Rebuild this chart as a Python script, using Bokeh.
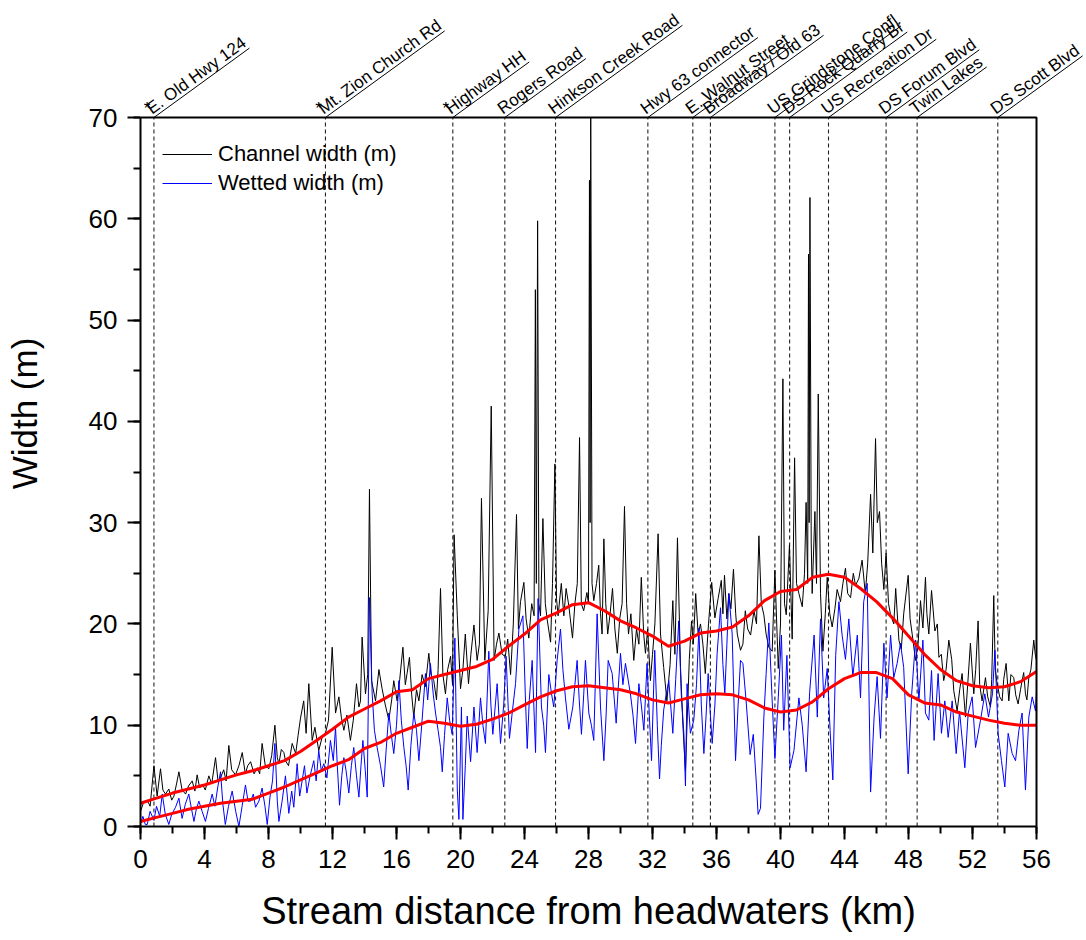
import math
from bokeh.plotting import figure
from bokeh.models import (Range1d, SingleIntervalTicker, Arrow, Legend, LegendItem, Title)
from bokeh.core.properties import value
from bokeh.embed import file_html
from bokeh.resources import INLINE

FONT = "Liberation Sans"

# ---------------- data ----------------
site_km = [0.84, 11.56, 19.52, 22.77, 25.94, 31.71, 34.52, 35.62, 39.65, 40.57, 43.0, 46.6, 48.54, 53.58]
site_names = ["E. Old Hwy 124", "Mt. Zion Church Rd", "Highway HH", "Rogers Road", "Hinkson Creek Road",
              "Hwy 63 connector", "E. Walnut Street", "Broadway / Old 63", "US Grindstone Confl",
              "DS Rock Quarry Br", "US Recreation Dr", "DS Forum Blvd", "Twin Lakes", "DS Scott Blvd"]
site_marked = [True, True, True, False, False, False, False, False, False, False, False, False, False, False]

channel_km = [
    0.0, 0.2, 0.42, 0.6, 0.84, 1.04, 1.25, 1.4, 1.56, 1.77, 1.95, 2.09, 2.25, 2.4, 2.6, 2.82, 3.0, 3.23, 3.4, 3.54,
    3.7, 3.86, 4.05, 4.27, 4.45, 4.69, 4.85, 5.0, 5.2, 5.35, 5.52, 5.7, 5.94, 6.15, 6.36, 6.55, 6.7, 6.88, 7.1, 7.3,
    7.45, 7.6, 7.8, 8.02, 8.2, 8.4, 8.55, 8.65, 8.8, 8.96,
    9.06, 9.25, 9.48, 9.7, 9.85, 10.0, 10.2, 10.35, 10.52, 10.73, 10.9, 11.14, 11.35, 11.56, 11.75, 11.98, 12.19,
    12.4, 12.55, 12.71, 12.9, 13.12, 13.3, 13.5, 13.65, 13.75, 13.85, 14.06, 14.2, 14.31, 14.44, 14.69, 14.9, 15.1,
    15.3, 15.52, 15.7, 15.83, 16.04, 16.2, 16.4, 16.55, 16.66, 16.81, 16.95, 17.08, 17.25, 17.4, 17.6, 17.8, 18.02,
    18.15, 18.33, 18.5, 18.6, 18.75,
    18.9, 19.06, 19.2, 19.38, 19.5, 19.6, 19.8, 20.0, 20.15, 20.3, 20.5, 20.65, 20.84, 21.04, 21.18, 21.31, 21.52,
    21.73, 21.92, 22.1, 22.25, 22.4, 22.6, 22.8, 22.95, 23.13, 23.3, 23.5, 23.62, 23.75, 23.96, 24.1, 24.27, 24.45,
    24.6, 24.68, 24.74, 24.82, 24.9, 25.0, 25.15, 25.3, 25.42, 25.63, 25.75, 25.9, 26.0, 26.1, 26.3, 26.46, 26.6,
    26.77, 26.9, 27.0, 27.15, 27.3, 27.44, 27.55, 27.7, 27.9,
    28.0, 28.06, 28.1, 28.14, 28.22, 28.33, 28.5, 28.64, 28.75, 28.85, 28.96, 29.08, 29.2, 29.35, 29.5, 29.65, 29.8,
    29.95, 30.1, 30.25, 30.38, 30.5, 30.65, 30.83, 31.0, 31.15, 31.3, 31.45, 31.56, 31.7, 31.87, 32.0, 32.15, 32.35,
    32.5, 32.7, 32.9, 33.1, 33.27, 33.4, 33.56, 33.75, 33.9, 34.06, 34.2, 34.3, 34.44, 34.55, 34.7, 34.85, 35.0,
    35.15, 35.3, 35.5, 35.7, 35.9, 36.1, 36.3, 36.4, 36.5, 36.65, 36.77, 36.9, 37.06, 37.2, 37.3, 37.5,
    37.65, 37.8, 37.95, 38.13, 38.34, 38.5, 38.65, 38.8, 38.96, 39.1, 39.27, 39.48, 39.65, 39.86, 40.0, 40.15, 40.25,
    40.36, 40.56, 40.73, 40.88, 41.0, 41.15, 41.36, 41.5, 41.6, 41.7, 41.75, 41.79, 41.84, 41.92, 41.98, 42.15,
    42.25, 42.36, 42.5, 42.65, 42.8, 42.92, 43.08, 43.23, 43.4, 43.54, 43.75, 43.9, 44.06, 44.2, 44.38, 44.55,
    44.69, 44.9, 45.1, 45.3, 45.45, 45.63, 45.77, 45.94, 46.05, 46.19, 46.32, 46.46, 46.6, 46.75, 46.88,
    47.08, 47.2, 47.4, 47.55, 47.7, 47.98, 48.1, 48.23, 48.44, 48.6, 48.75, 48.9, 49.06, 49.15, 49.27, 49.44, 49.65,
    49.8, 49.9, 50.05, 50.2, 50.35, 50.52, 50.7, 50.83, 51.04, 51.2, 51.35, 51.56, 51.7, 51.87, 52.08, 52.2, 52.35,
    52.45, 52.6, 52.81, 52.95, 53.12, 53.2, 53.33, 53.42, 53.54, 53.7, 53.85, 53.95, 54.1, 54.27, 54.4, 54.58, 54.7,
    54.85, 55.0, 55.1, 55.2, 55.31, 55.4, 55.52, 55.65, 55.83, 55.92, 56.0]
channel_width = [
    1.5, 2.4, 2.6, 2.0, 6.0, 3.0, 5.7, 3.6, 3.2, 3.7, 2.6, 3.0, 4.2, 5.4, 3.6, 3.2, 4.0, 4.5, 3.5, 5.1,
    3.8, 4.2, 3.6, 5.0, 4.2, 6.8, 4.4, 4.8, 5.6, 4.5, 8.0, 5.6, 5.1, 6.0, 7.3, 5.2, 6.0, 6.4, 5.2, 5.8,
    5.2, 8.2, 6.0, 5.7, 7.0, 10.0, 6.8, 6.2, 7.6, 7.3,
    6.5, 6.0, 8.2, 7.2, 9.0, 10.7, 12.4, 9.2, 14.1, 8.5, 9.8, 7.5, 8.8, 9.2, 10.5, 17.7, 11.2,
    12.8, 10.8, 9.5, 11.0, 8.5, 10.5, 14.1, 11.8, 12.4, 18.7, 13.1, 15.0, 33.3, 14.4, 12.4, 15.5, 13.6,
    12.0, 10.5, 12.5, 14.4, 12.4, 14.5, 17.7, 14.0, 15.1, 16.7, 13.0, 10.8, 13.5, 12.4, 15.0, 13.8, 17.1,
    15.0, 14.4, 12.5, 15.5, 23.5,
    15.0, 13.1, 15.5, 16.8, 14.0, 28.8, 20.8, 13.6, 15.5, 19.0, 14.1, 17.0, 19.9, 16.4, 18.0, 32.4, 16.4,
    21.3, 41.5, 16.4, 18.0, 19.1, 17.0, 16.8, 18.5, 15.0, 20.0, 30.8, 19.5, 22.2, 24.1, 20.5, 18.6, 22.0,
    20.8, 53.0, 24.0, 59.8, 22.0, 20.8, 30.4, 22.0, 20.4, 18.2, 24.0, 35.8, 22.5, 20.8, 24.0, 20.8, 23.5,
    21.8, 20.0, 18.6, 22.0, 24.0, 38.4, 22.0, 21.3, 23.1,
    22.0, 63.8, 30.0, 70.0, 24.0, 22.3, 24.0, 25.8, 21.0, 19.0, 28.4, 22.0, 19.0, 21.0, 23.5, 19.5, 17.1,
    20.5, 22.0, 31.6, 22.0, 19.0, 21.0, 16.4, 19.5, 18.0, 24.6, 19.0, 17.1, 19.5, 14.4, 17.0, 20.0, 28.9,
    19.0, 15.7, 12.4, 16.0, 22.3, 17.0, 28.5, 15.7, 10.0, 5.5, 12.0, 16.5, 20.3, 18.0, 23.0, 19.0, 20.0,
    18.0, 15.1, 20.0, 24.1, 20.6, 22.5, 24.3, 21.0, 24.8, 20.5, 23.0, 21.5, 25.4, 21.0, 19.0, 17.4,
    18.0, 21.3, 19.5, 18.9, 21.3, 20.0, 28.7, 22.0, 20.9, 19.0, 17.7, 17.3, 25.3, 15.6, 20.0, 44.2, 22.0,
    20.9, 27.8, 18.5, 36.4, 24.0, 23.0, 21.7, 25.0, 32.0, 24.0, 56.5, 30.0, 62.1, 28.0, 23.0, 31.1,
    24.0, 42.7, 23.0, 17.3, 21.0, 24.6, 21.0, 19.7, 21.5, 23.4, 22.2, 24.0, 25.5, 23.0, 22.6, 25.0,
    23.8, 24.5, 26.3, 23.0, 26.0, 32.8, 27.0, 38.3, 30.0, 31.1, 26.0, 23.4, 27.0, 22.0, 20.9,
    20.0, 23.5, 18.4, 17.5, 21.0, 24.8, 20.5, 19.0, 16.4, 18.0, 22.3, 19.6, 24.6, 21.0, 19.0, 23.3, 19.3,
    20.0, 16.7, 17.0, 14.4, 15.5, 18.4, 16.5, 13.4, 11.4, 13.5, 15.1, 10.8, 14.0, 18.1, 13.1, 15.5, 20.3,
    14.0, 12.4, 14.7, 12.8, 11.8, 14.5, 22.8, 15.5, 14.1, 12.8, 12.4, 14.5, 16.1, 12.4, 15.0, 14.7, 13.0,
    12.1, 13.5, 14.4, 15.2, 13.1, 12.5, 14.7, 15.5, 18.4, 17.0, 16.4]

wetted_km = [
    0.0, 0.15, 0.3, 0.42, 0.6, 0.84, 1.0, 1.2, 1.36, 1.55, 1.77, 1.95, 2.19, 2.4, 2.6, 2.8, 3.02, 3.18, 3.34, 3.5,
    3.65, 3.85, 4.06, 4.25, 4.48, 4.65, 4.82, 5.0, 5.15, 5.3, 5.5, 5.73, 5.95, 6.15, 6.35, 6.56, 6.72, 6.88, 7.05,
    7.19, 7.4, 7.6, 7.78, 7.92, 8.1, 8.25, 8.4, 8.55, 8.65, 8.85, 9.06,
    9.27, 9.45, 9.58, 9.79, 9.95, 10.1, 10.25, 10.4, 10.6, 10.83, 10.98, 11.14, 11.3, 11.46, 11.65, 11.87, 12.05,
    12.19, 12.3, 12.44, 12.58, 12.71, 12.85, 13.02, 13.18, 13.33, 13.5, 13.65, 13.78, 13.9, 14.05, 14.17, 14.31,
    14.48, 14.62, 14.79, 15.0, 15.2, 15.35, 15.52, 15.68, 15.83, 16.0, 16.15, 16.3, 16.46, 16.6, 16.73, 16.9, 17.08,
    17.25, 17.4, 17.6, 17.81, 17.95, 18.12, 18.3, 18.44, 18.6, 18.75,
    18.86, 19.0, 19.17, 19.32, 19.48, 19.65, 19.8, 19.9, 20.06, 20.15, 20.3, 20.42, 20.63, 20.84, 21.04, 21.25,
    21.4, 21.56, 21.77, 21.9, 22.02, 22.15, 22.29, 22.5, 22.7, 22.85, 23.06, 23.25, 23.44, 23.65, 23.9, 24.05,
    24.17, 24.3, 24.48, 24.69, 24.85, 25.06, 25.2, 25.31, 25.52, 25.7, 25.83, 26.04, 26.25, 26.4, 26.56, 26.77,
    27.02, 27.15, 27.29, 27.42, 27.56, 27.7, 27.81,
    28.02, 28.18, 28.33, 28.54, 28.75, 28.96, 29.1, 29.23, 29.48, 29.73, 29.85, 30.0, 30.15, 30.31, 30.62, 30.78,
    30.94, 31.15, 31.3, 31.46, 31.66, 31.8, 31.94, 32.14, 32.3, 32.44, 32.55, 32.7, 32.85, 33.02, 33.27, 33.45,
    33.64, 33.8, 33.96, 34.06, 34.16, 34.37, 34.58, 34.75, 34.9, 35.05, 35.21, 35.35, 35.48, 35.6, 35.73, 35.9,
    36.04, 36.25, 36.4, 36.52, 36.65, 36.77, 36.98, 37.19, 37.35, 37.5,
    37.65, 37.85, 38.1, 38.3, 38.5, 38.6, 38.75, 38.96, 39.1, 39.27, 39.48, 39.65, 39.86, 40.06, 40.2, 40.4, 40.6,
    40.84, 41.15, 41.36, 41.6, 41.82, 42.1, 42.3, 42.5, 42.7, 42.92, 43.1, 43.27, 43.45, 43.65, 43.85, 44.06,
    44.27, 44.52, 44.8, 45.0, 45.2, 45.42, 45.63, 45.85, 46.04, 46.25, 46.46, 46.66, 46.88,
    47.08, 47.29, 47.5, 47.7, 47.98, 48.2, 48.44, 48.65, 48.9, 49.06, 49.27, 49.44, 49.6, 49.85, 50.06, 50.27,
    50.48, 50.73, 50.98, 51.19, 51.52, 51.73, 51.98, 52.19, 52.5, 52.77, 53.0, 53.25, 53.4, 53.6, 53.81, 54.02,
    54.23, 54.48, 54.69, 54.9, 55.1, 55.31, 55.52, 55.73, 55.94, 56.0]
wetted_width = [
    0.3, 1.0, 0.2, 0.2, 1.5, 0.6, 2.0, 1.0, 3.2, 1.2, 0.2, 1.2, 1.9, 2.8, 0.8, 2.2, 3.2, 1.8, 0.5, 1.8,
    2.5, 1.5, 0.5, 1.8, 3.2, 2.0, 3.8, 5.4, 2.2, 0.2, 2.0, 3.5, 1.5, 0.0, 2.0, 4.1, 2.5, 2.5, 3.2,
    1.9, 2.5, 3.8, 2.0, 0.2, 3.0, 4.5, 8.2, 2.5, 0.5, 2.5, 5.0,
    1.3, 3.5, 1.9, 6.2, 3.0, 4.5, 6.0, 3.3, 5.0, 6.5, 4.5, 7.5, 5.5, 6.2, 4.8, 8.5, 6.5,
    9.8, 6.0, 2.1, 5.0, 6.8, 5.5, 3.3, 6.0, 7.8, 5.0, 2.9, 6.0, 8.5, 5.5, 2.9, 22.6,
    13.1, 9.5, 7.8, 6.0, 3.9, 7.5, 11.2, 9.0, 7.2, 10.0, 14.4, 10.5, 7.8, 6.0, 3.6, 8.0, 11.2,
    9.5, 6.5, 10.5, 15.1, 12.5, 16.1, 13.0, 11.2, 9.5, 7.8,
    5.4, 9.0, 12.7, 10.5, 9.1, 18.6, 3.6, 0.7, 11.8, 0.7, 6.0, 10.9, 6.4, 11.8, 7.3, 12.7,
    10.0, 8.2, 17.3, 12.0, 9.1, 11.5, 14.1, 8.2, 12.0, 16.8, 8.7, 11.5, 14.1, 19.5, 20.8, 13.0,
    7.7, 12.5, 16.4, 7.3, 22.5, 11.8, 10.0, 7.3, 15.0, 13.0, 11.8, 16.4, 19.5, 15.5, 12.7, 9.6,
    11.8, 14.0, 16.4, 12.5, 9.1, 13.0, 16.4,
    11.2, 10.0, 8.5, 21.0, 11.8, 6.5, 11.0, 16.4, 15.1, 10.2, 13.5, 17.1, 14.0, 16.1, 13.1, 11.0,
    8.2, 14.1, 12.0, 9.5, 16.1, 11.0, 6.5, 17.4, 10.0, 4.7, 8.0, 11.5, 13.0, 14.4, 9.2, 14.5,
    20.3, 13.0, 9.2, 4.0, 14.1, 9.2, 10.5, 14.0, 19.6, 12.0, 7.2, 11.0, 15.1, 11.5, 8.2, 12.0,
    17.1, 21.6, 16.0, 13.1, 18.0, 23.0, 19.0, 6.5, 12.0, 16.4,
    16.1, 12.4, 7.1, 9.1, 4.0, 1.2, 1.8, 10.8, 15.0, 20.1, 12.4, 6.7, 12.7, 18.9, 9.5, 16.9, 5.8,
    7.5, 12.7, 10.0, 5.4, 13.2, 18.9, 10.8, 20.5, 12.7, 15.6, 9.5, 4.6, 16.9, 22.2, 18.9, 16.5,
    20.5, 14.8, 18.9, 12.7, 22.2, 24.0, 3.4, 10.8, 14.8, 8.7, 18.1, 12.7, 18.9,
    14.7, 16.1, 18.1, 15.7, 5.2, 13.1, 18.4, 12.4, 18.4, 11.2, 10.5, 15.4, 8.5, 15.1, 9.2, 12.4,
    8.8, 12.4, 7.2, 11.4, 5.8, 11.2, 12.8, 7.8, 10.5, 13.1, 10.8, 13.1, 17.4, 9.2, 6.5, 3.9,
    9.2, 7.2, 6.5, 9.5, 11.2, 3.6, 10.8, 12.8, 11.4, 13.4]

trend_km = list(range(0, 57))
channel_trend = [2.3, 2.8, 3.3, 3.7, 4.1, 4.6, 5.1, 5.5, 6.0, 6.5, 7.4, 8.5, 9.6, 10.8, 11.6, 12.4, 13.3, 13.5,
                 14.6, 15.0, 15.4, 15.8, 16.5, 17.8, 19.0, 20.4, 21.1, 21.9, 22.1, 21.3, 20.3, 19.6, 18.8,
                 17.8, 18.3, 19.1, 19.3, 19.7, 20.8, 22.3, 23.2, 23.4, 24.6, 24.9, 24.6, 23.5, 22.2, 20.6,
                 18.8, 17.0, 15.5, 14.4, 13.9, 13.7, 13.8, 14.3, 15.3]
wetted_trend = [0.5, 0.9, 1.3, 1.7, 2.0, 2.3, 2.5, 2.7, 3.3, 3.9, 4.6, 5.3, 6.0, 6.6, 7.7, 8.3, 9.2, 9.8,
                10.4, 10.2, 9.9, 10.1, 10.6, 11.2, 12.0, 12.8, 13.4, 13.8, 13.9, 13.7, 13.5, 13.1, 12.5,
                12.2, 12.6, 13.0, 13.1, 13.0, 12.5, 11.7, 11.3, 11.5, 12.3, 13.6, 14.6, 15.2, 15.2, 14.6,
                13.0, 12.2, 12.0, 11.3, 10.9, 10.5, 10.2, 10.0, 10.0]

x_title = "Stream distance from headwaters (km)"
y_title = "Width (m)"

# ---------------- figure ----------------
X0, X1, Y0, Y1 = 0, 56, 0, 70
PX_X = 16.0            # screen px per km
PX_Y = 709.0 / 70.0    # screen px per metre
LEFT, TOP_PAD, BOTTOM = 140, 117, 98
FW = 1084 - LEFT
FH = int(round(Y1 * PX_Y + TOP_PAD))
XT = X0 + FW / PX_X
YT = Y0 + FH / PX_Y

AW = {' ': 278, '*': 389, '.': 278, '/': 278, '(': 333, ')': 333, 'A': 667, 'B': 667, 'C': 722,
      'D': 722, 'E': 667, 'F': 611, 'G': 778, 'H': 722, 'I': 278, 'L': 556, 'M': 833, 'N': 722,
      'O': 778, 'Q': 778, 'R': 722, 'S': 667, 'T': 611, 'U': 722, 'W': 944, 'Z': 611, 'a': 556,
      'b': 556, 'c': 500, 'd': 556, 'e': 556, 'f': 278, 'g': 556, 'h': 556, 'i': 222, 'k': 500,
      'l': 222, 'm': 833, 'n': 556, 'o': 556, 'p': 556, 'r': 333, 's': 500, 't': 278, 'u': 556,
      'v': 500, 'w': 722, 'y': 500, 'z': 500}


def text_px(s, size):
    return sum(AW.get(c, 556) for c in s) / 1000.0 * size


p = figure(frame_width=FW, frame_height=FH, x_range=Range1d(X0, XT), y_range=Range1d(Y0, YT),
           output_backend="svg", toolbar_location=None,
           min_border_left=LEFT, min_border_top=0, min_border_right=0, min_border_bottom=BOTTOM)
p.xgrid.visible = False
p.ygrid.visible = False
p.outline_line_color = None
p.background_fill_color = "white"

p.xaxis.ticker = SingleIntervalTicker(interval=4, num_minor_ticks=2)
p.yaxis.ticker = SingleIntervalTicker(interval=10, num_minor_ticks=2)
p.xaxis.bounds = (X0, X1)
p.yaxis.bounds = (Y0, Y1)
for ax in (p.xaxis, p.yaxis):
    ax.axis_line_width = 2
    ax.axis_line_color = "black"
    ax.major_tick_line_width = 2
    ax.minor_tick_line_width = 2
    ax.major_tick_in = 0
    ax.major_tick_out = 13
    ax.minor_tick_in = 0
    ax.minor_tick_out = 7
    ax.major_label_text_font = FONT
    ax.major_label_text_font_size = "26px"
    ax.major_label_text_color = "black"
    ax.axis_label_text_font = FONT
    ax.axis_label_text_font_style = "normal"
    ax.axis_label_text_color = "black"
p.yaxis.axis_label = y_title
p.yaxis.axis_label_text_font_size = "35px"
p.xaxis.major_label_standoff = 10
p.yaxis.major_label_standoff = 10
p.yaxis.axis_label_standoff = 42

# x title centred under the plot box (not under the wider frame)
XT_PX = 38
x_title_left = (X1 - X0) * PX_X / 2 - text_px(x_title, XT_PX) / 2
p.add_layout(Title(text=x_title, align="left", offset=x_title_left, text_font=FONT,
                   text_font_size=f"{XT_PX}px", text_font_style="normal", text_color="black",
                   standoff=34), "below")

# dashed site lines (inside the plot box only)
p.segment(x0=site_km, y0=[Y0] * len(site_km), x1=site_km, y1=[Y1] * len(site_km),
          line_color="#222222", line_dash="4 3", line_width=1.1)

r_ch = p.line(channel_km, channel_width, line_color="black", line_width=1)
r_wet = p.line(wetted_km, wetted_width, line_color="#0000ff", line_width=1)
p.line(trend_km, channel_trend, line_color="#ff0000", line_width=3)
p.line(trend_km, wetted_trend, line_color="#ff0000", line_width=3)

# top and right sides of the plot box
p.line([X0, X1, X1], [Y1, Y1, Y0], line_color="black", line_width=2)

# rotated, underlined site labels above the box
ANG = 36.0
LABEL_PX = 17
GAP = 9.0      # perpendicular lift of the text above its underline (screen px)
a = math.radians(ANG)
lab_x = [k - GAP * math.sin(a) / PX_X for k in site_km]
lab_y = [Y1 + GAP * math.cos(a) / PX_Y for _ in site_km]
p.text(x=lab_x, y=lab_y, text=site_names, angle=a, text_font=value(FONT),
       text_font_size=value(f"{LABEL_PX}px"), text_color="black", text_align="left",
       text_baseline="alphabetic")
star_x = [k - 7 / PX_X for k, m in zip(site_km, site_marked) if m]
star_y = [Y1 + 9 / PX_Y for _ in star_x]
p.text(x=star_x, y=star_y, text=["*"] * len(star_x), text_font=value(FONT),
       text_font_size=value(f"{LABEL_PX}px"), text_color="black", text_align="center",
       text_baseline="alphabetic")
for km, name in zip(site_km, site_names):
    L = text_px(name, LABEL_PX)
    p.add_layout(Arrow(end=None, x_start=km, y_start=Y1,
                       x_end=km + L * math.cos(a) / PX_X,
                       y_end=Y1 + L * math.sin(a) / PX_Y,
                       line_color="black", line_width=1))

legend = Legend(items=[LegendItem(label="Channel width (m)", renderers=[r_ch]),
                       LegendItem(label="Wetted width (m)", renderers=[r_wet])],
                location=(22, 630), border_line_color=None, background_fill_alpha=0,
                label_text_font=FONT, label_text_font_size="22px", label_text_color="black",
                glyph_width=50, glyph_height=24, label_height=24, spacing=3, padding=10,
                margin=0, label_standoff=6)
p.add_layout(legend)

open("out.html", "w").write(file_html(p, INLINE))
